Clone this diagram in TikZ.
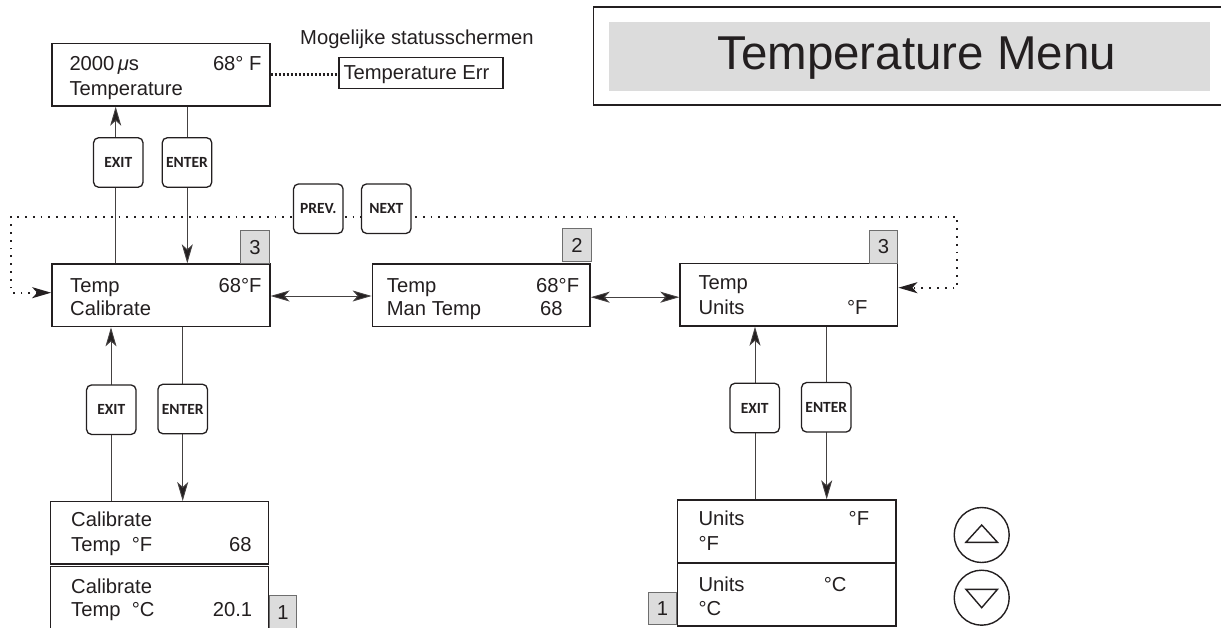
\documentclass[tikz,border=0pt]{standalone}
\usepackage{fontspec}
\setmainfont{Liberation Sans}
\newfontfamily\keyfamily{Carlito}
\usetikzlibrary{arrows.meta,calc}
\definecolor{ink}{HTML}{231F20}
\definecolor{panelgray}{HTML}{DCDCDC}
\definecolor{badgeedge}{HTML}{6E6E6E}
\newcommand\lcdfont{\fontsize{20.2}{24}\selectfont}
\newcommand\keyfont{\keyfamily\bfseries\fontsize{15.5}{16}\selectfont}
\tikzset{
  >={Stealth[length=19pt,width=11pt,inset=5pt,fill=ink]},
  screen/.style={draw=ink, line width=1.4pt, fill=white, inner sep=0pt,
                 minimum width=218pt, minimum height=62.7pt},
  keycap/.style={draw=ink, line width=1.3pt, rounded corners=5pt, fill=white,
                 minimum width=49.5pt, minimum height=49.5pt, inner sep=0pt,
                 font=\keyfont, text=ink},
  badge/.style={draw=badgeedge, line width=1pt, fill=panelgray, inner sep=0pt,
                minimum width=28.4pt, minimum height=33pt, font=\lcdfont, text=ink},
  lbl/.style={inner sep=0pt, font=\lcdfont, text=ink},
  link/.style={draw=ink!85, line width=0.9pt, ->},
  bilink/.style={draw=ink!85, line width=0.9pt, <->},
  loopline/.style={draw=ink, line width=1.8pt, dash pattern=on 1.8pt off 6pt, <->},
  errline/.style={draw=ink, line width=2.6pt, dash pattern=on 2.6pt off 1.4pt},
  arrowkey/.style={circle, draw=ink, line width=1.4pt, minimum size=55pt, inner sep=0pt}
}
\begin{document}
\begin{tikzpicture}[x=1pt,y=-1pt]
\useasboundingbox (0,0) rectangle (1221,628);
\clip (0,0) rectangle (1221,628);

% title panel
\draw[ink, line width=1.6pt] (593.3,7.3) rectangle (1240,105);
\fill[panelgray] (609,21.7) rectangle (1210,90.7);
\node[inner sep=0pt, anchor=base, text=ink, font=\fontsize{47.5}{50}\selectfont]
  (title) at (916.7,70) {Temperature Menu};

% connector columns and rows
\coordinate (xExitA) at (115.7,0);
\coordinate (xEnterA) at (187.3,0);
\coordinate (xExitB) at (111,0);
\coordinate (xEnterB) at (182.7,0);
\coordinate (xExitC) at (755,0);
\coordinate (xEnterC) at (826.7,0);
\coordinate (yLeftIn) at (0,292.7);
\coordinate (yRightIn) at (0,287.7);
\coordinate (yLoopTop) at (0,216.7);
\coordinate (xLoopL) at (11,0);
\coordinate (xLoopR) at (957.3,0);
\coordinate (yMidA) at (0,296);
\coordinate (yMidB) at (0,297.2);

% screens
\node[screen] (top) at (160.85,74.65) {};
\node[screen] (cal) at (160.85,295.35) {};
\node[screen, minimum width=217.7pt] (man) at (481.15,295.35) {};
\node[screen, minimum width=217.7pt] (units) at (788.85,294.65) {};
\node[screen, minimum width=217.6pt, minimum height=62.3pt] (calF) at (159.5,532.85) {};
\node[screen, minimum width=217.6pt] (calC) at (159.5,598.05) {};
\node[screen, minimum width=218.3pt] (unitsF) at (786.85,531.35) {};
\node[screen, minimum width=218.3pt] (unitsC) at (786.85,594.65) {};
\node[draw=ink, line width=1.3pt, inner sep=0pt, minimum width=164pt, minimum height=31pt]
  (err) at (421,72.8) {};

% status screen note
\node[lbl, anchor=base west] (note) at (300,45) {Mogelijke statusschermen};
\node[lbl, anchor=base west] (errtxt) at (343.3,80) {Temperature Err};
\draw[errline] (top.east) -- (top.east -| err.west);

% screen texts
\node[lbl, anchor=base west] (t1) at (69.3,71) {2000\,{\itshape μ}s};
\node[lbl, anchor=base east] (t2) at (261.7,71) {68° F};
\node[lbl, anchor=base west] (t3) at (69.3,95.7) {Temperature};

\node[lbl, anchor=base west] (c1) at (70,292.3) {Temp};
\node[lbl, anchor=base east] (c2) at (261.7,292.3) {68°F};
\node[lbl, anchor=base west] (c3) at (70,316) {Calibrate};

\node[lbl, anchor=base west] (m1) at (386.7,292.3) {Temp};
\node[lbl, anchor=base east] (m2) at (579.3,292.3) {68°F};
\node[lbl, anchor=base west] (m3) at (386.7,316) {Man Temp};
\node[lbl, anchor=base east] (m4) at (562.7,316) {68};

\node[lbl, anchor=base west] (u1) at (698.3,290) {Temp};
\node[lbl, anchor=base west] (u2) at (698.3,315) {Units};
\node[lbl, anchor=base east] (u3) at (867.7,315) {°F};

\node[lbl, anchor=base west] (f1) at (71,526.7) {Calibrate};
\node[lbl, anchor=base west] (f2) at (71,551) {Temp~~°F};
\node[lbl, anchor=base east] (f3) at (251.7,551) {68};

\node[lbl, anchor=base west] (g1) at (71,593.3) {Calibrate};
\node[lbl, anchor=base west] (g2) at (71,616) {Temp~~°C};
\node[lbl, anchor=base east] (g3) at (252.3,616) {20.1};

\node[lbl, anchor=base west] (h1) at (698.3,525) {Units};
\node[lbl, anchor=base east] (h2) at (869.3,525) {°F};
\node[lbl, anchor=base west] (h3) at (698.3,550) {°F};

\node[lbl, anchor=base west] (k1) at (698.3,591.7) {Units};
\node[lbl, anchor=base east] (k2) at (846.7,591.7) {°C};
\node[lbl, anchor=base west] (k3) at (698.3,615) {°C};

% screen numbers
\node[badge, minimum width=28.6pt] (n3a) at (255,247.5) {3};
\node[badge] (n2) at (576.9,245.3) {2};
\node[badge] (n3b) at (883.5,247) {3};
\node[badge, minimum width=27.4pt] (n1a) at (283,612.2) {1};
\node[badge, minimum height=32pt] (n1b) at (662.5,608.3) {1};

% vertical connectors
\draw[link] (cal.north -| xExitA) -- (top.south -| xExitA);
\draw[link] (top.south -| xEnterA) -- (cal.north -| xEnterA);
\draw[link] (calF.north -| xExitB) -- (cal.south -| xExitB);
\draw[link] (cal.south -| xEnterB) -- (calF.north -| xEnterB);
\draw[link] (unitsF.north -| xExitC) -- (units.south -| xExitC);
\draw[link] (units.south -| xEnterC) -- (unitsF.north -| xEnterC);

% horizontal navigation
\draw[bilink] (cal.east |- yMidA) -- (man.west |- yMidA);
\draw[bilink] (man.east |- yMidB) -- (units.west |- yMidB);
\draw[loopline] (cal.west |- yLeftIn) -- (xLoopL |- yLeftIn) -- (xLoopL |- yLoopTop)
  -- (xLoopR |- yLoopTop) -- (xLoopR |- yRightIn) -- (units.east |- yRightIn);

% keys
\node[keycap] (exitA) at (118.3,162.5) {EXIT};
\node[keycap] (enterA) at (187,162.5) {ENTER};
\node[keycap] (prev) at (318.3,208.7) {PREV.};
\node[keycap] (next) at (386.3,208.7) {NEXT};
\node[keycap] (exitB) at (111.3,409.7) {EXIT};
\node[keycap] (enterB) at (182.7,409) {ENTER};
\node[keycap] (exitC) at (754.7,408) {EXIT};
\node[keycap] (enterC) at (826.3,407.3) {ENTER};

% up / down keys
\node[arrowkey] (up) at (981.7,535) {};
\node[arrowkey] (down) at (981.7,597.7) {};
\draw[ink, line width=1.4pt, line join=miter] (up) ++(-15.8,7.3) -- ++(31.6,0) -- ++(-15.8,-17.3) -- cycle;
\draw[ink, line width=1.4pt, line join=miter] (down) ++(-15.8,-8.4) -- ++(31.6,0) -- ++(-15.8,18.4) -- cycle;
\end{tikzpicture}
\end{document}
